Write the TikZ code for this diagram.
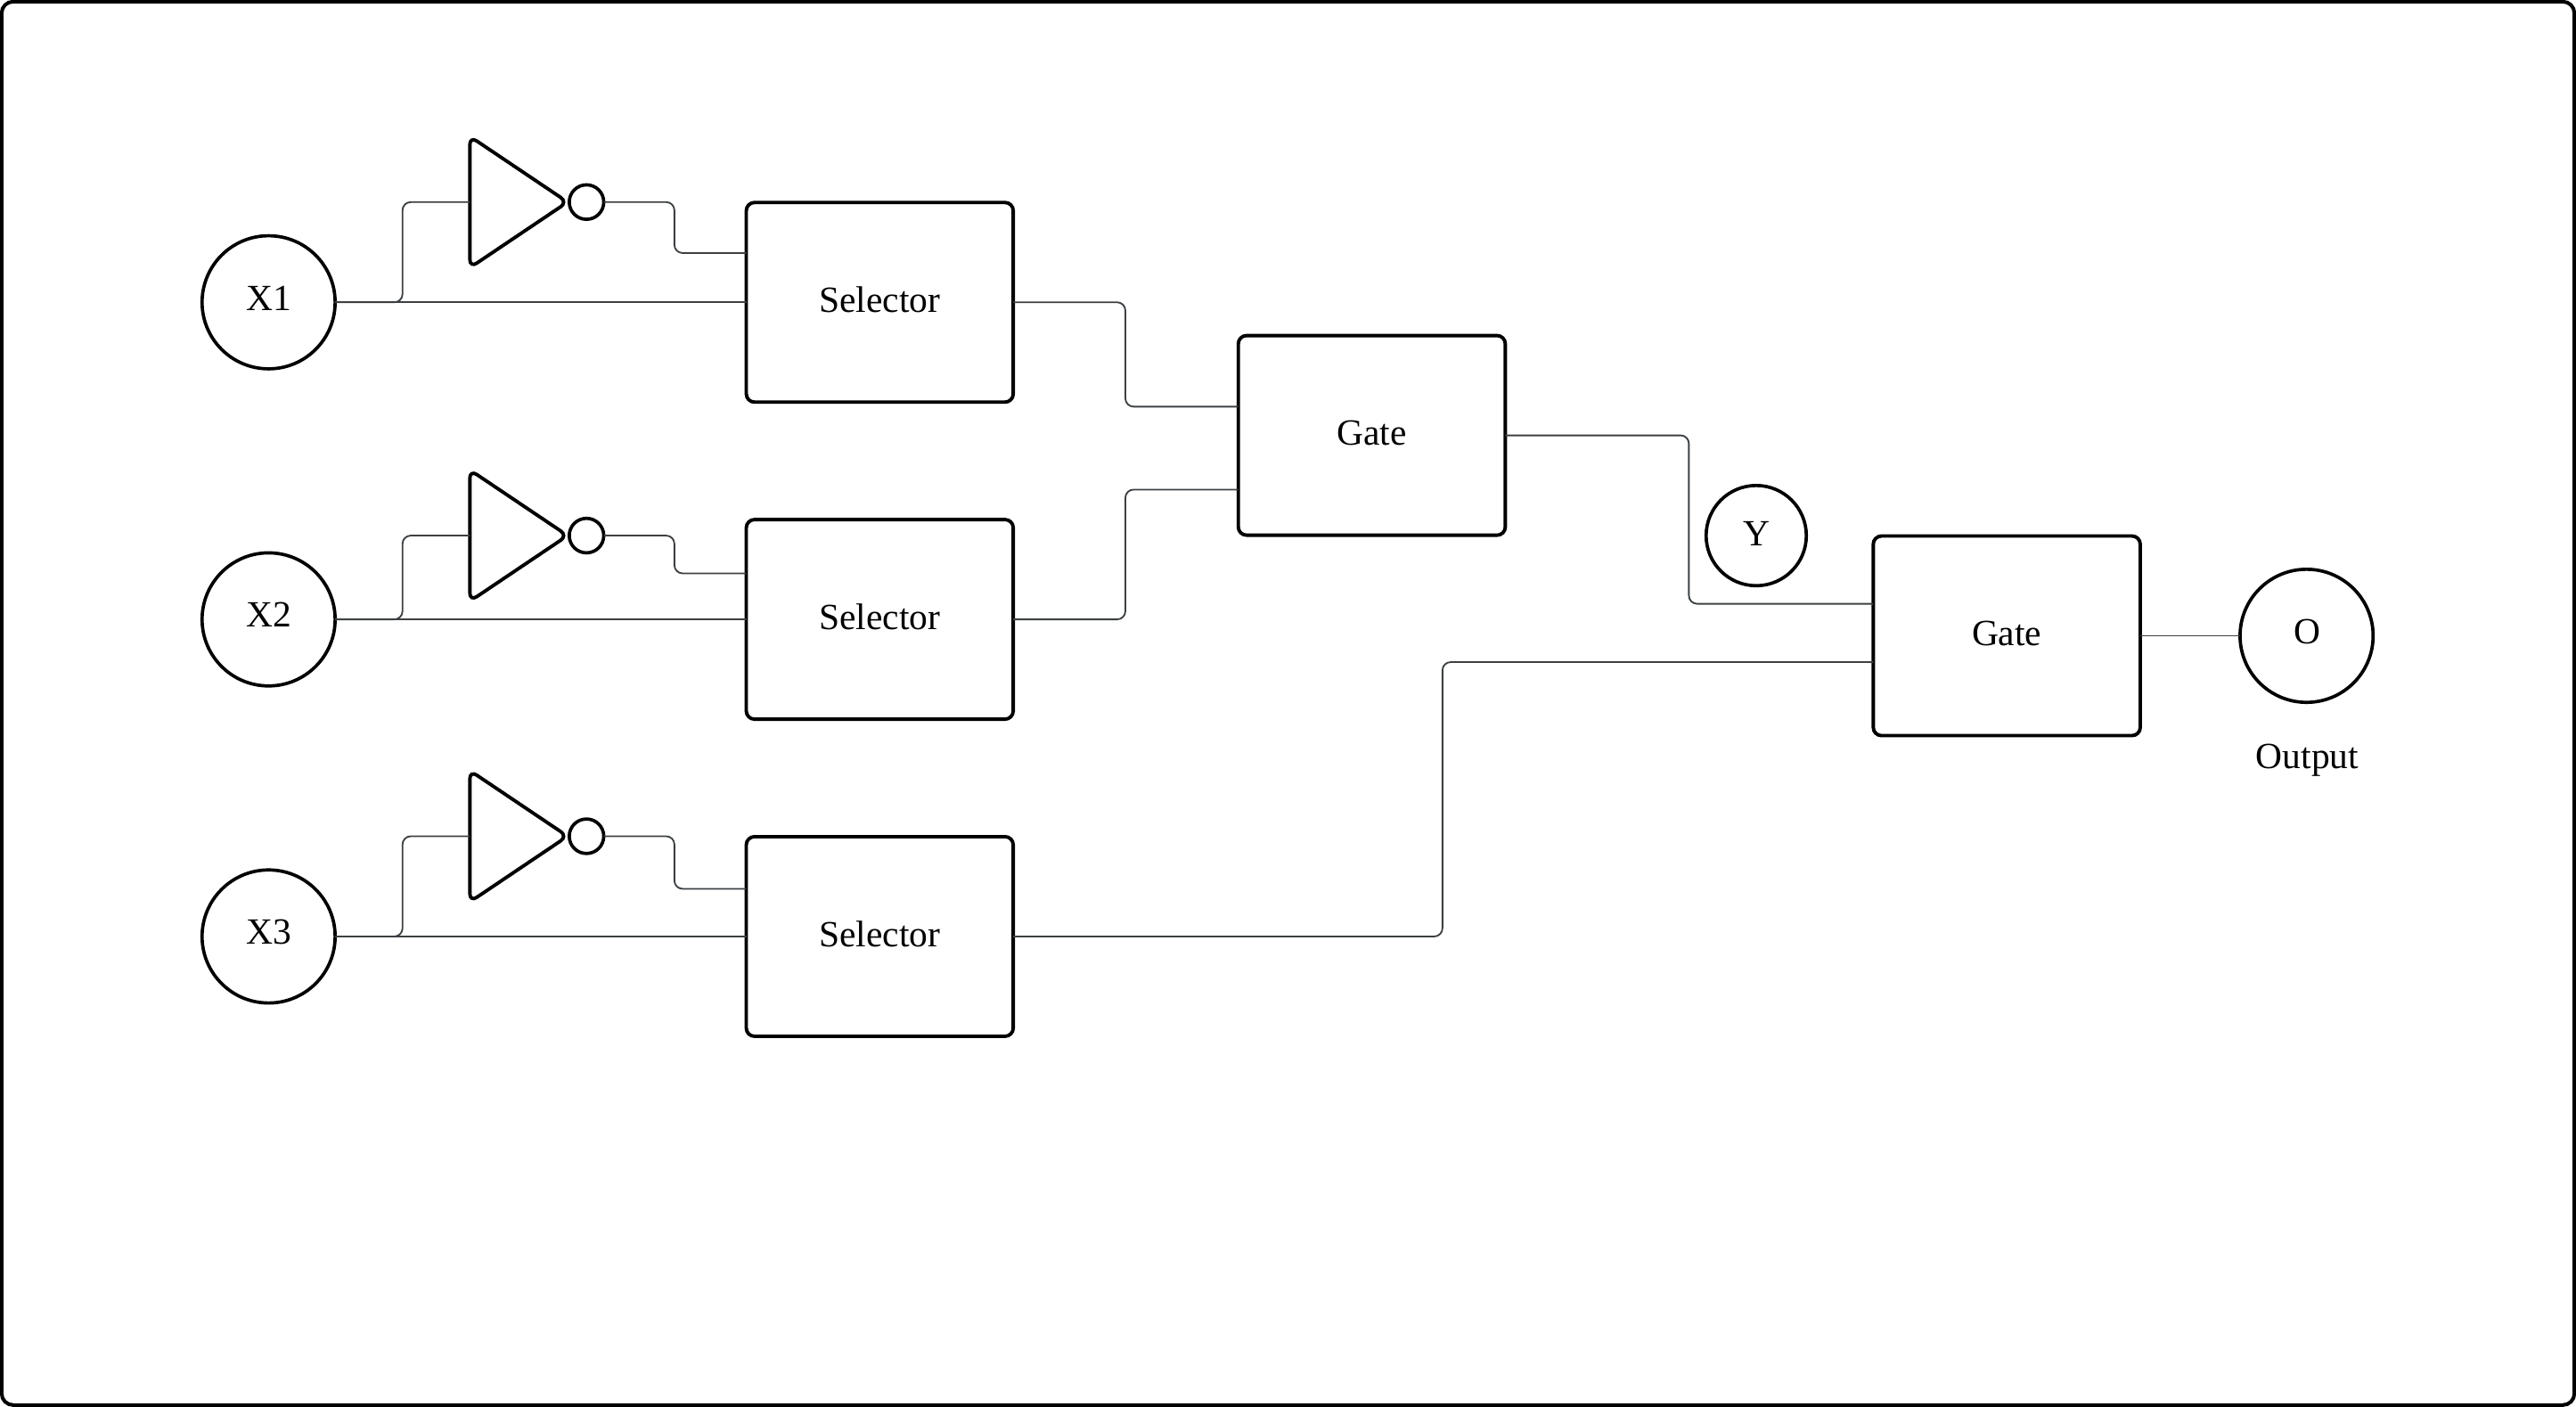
\documentclass[tikz,border=0pt]{standalone}
\usepackage{fontspec}
\setmainfont{Liberation Serif}
\usetikzlibrary{shapes.geometric}
\definecolor{wirecol}{HTML}{3C4043}
\tikzset{
  x=1pt,y=-1pt,
  every node/.style={font=\fontsize{22.5}{26}\selectfont,inner sep=0pt,outer sep=0pt},
  frame/.style={draw=black,line width=2.2pt,rounded corners=7pt},
  blockbox/.style={draw=black,line width=2.1pt,rounded corners=5pt,minimum width=162.5pt,minimum height=121.5pt,text height=18pt,text depth=6pt},
  bigcirc/.style={draw=black,line width=2pt,circle,minimum size=81pt,text height=16pt,text depth=6.4pt},
  ycirc/.style={draw=black,line width=2pt,circle,minimum size=61pt,text height=18pt,text depth=6pt},
  bubble/.style={draw=black,line width=2pt,circle,minimum size=21pt},
  invtri/.style={isosceles triangle,isosceles triangle stretches,shape border rotate=0,minimum width=80pt,minimum height=59.5pt,anchor=lower side},
  tripath/.style={draw=black,line width=2.1pt,rounded corners=5pt},
  wire/.style={draw=wirecol,line width=1pt,rounded corners=5pt}
}
\begin{document}
\begin{tikzpicture}
\useasboundingbox (0,0) rectangle (1568,856.4);
\draw[frame] (1,1) rectangle (1567,855.2);
\node[bigcirc] (x1) at (163.5,184) {X1};
\node[bigcirc] (x2) at (163.5,377) {X2};
\node[bigcirc] (x3) at (163.5,570) {X3};
\node[invtri] (t1) at (286,123) {};
\node[invtri] (t2) at (286,326) {};
\node[invtri] (t3) at (286,509) {};
\draw[tripath] (t1.lower side) -- (t1.left corner) -- (t1.apex) -- (t1.right corner) -- cycle;
\draw[tripath] (t2.lower side) -- (t2.left corner) -- (t2.apex) -- (t2.right corner) -- cycle;
\draw[tripath] (t3.lower side) -- (t3.left corner) -- (t3.apex) -- (t3.right corner) -- cycle;
\node[bubble] (b1) at (357,123) {};
\node[bubble] (b2) at (357,326) {};
\node[bubble] (b3) at (357,509) {};
\node[blockbox] (s1) at (535.5,184) {Selector};
\node[blockbox] (s2) at (535.5,377) {Selector};
\node[blockbox] (s3) at (535.5,570) {Selector};
\node[blockbox] (g1) at (835,265) {Gate};
\node[blockbox] (g2) at (1221.5,387) {Gate};
\node[ycirc] (y) at (1069,326) {Y};
\node[bigcirc] (o) at (1404,387) {\hspace{1pt}O};
\node[anchor=base] (out) at (1404.5,467.8) {Output};
\draw[wire] (x1.east) -- (245,184) |- (t1.lower side);
\draw[wire] (x2.east) -- (245,377) |- (t2.lower side);
\draw[wire] (x3.east) -- (245,570) |- (t3.lower side);
\draw[wire] (x1.east) -- (s1.west);
\draw[wire] (x2.east) -- (s2.west);
\draw[wire] (x3.east) -- (s3.west);
\draw[wire] (b1.east) -- (410.5,123) |- (s1.west |- 0,154);
\draw[wire] (b2.east) -- (410.5,326) |- (s2.west |- 0,349);
\draw[wire] (b3.east) -- (410.5,509) |- (s3.west |- 0,541);
\draw[wire] (s1.east) -- (685,184) |- (g1.west |- 0,247.5);
\draw[wire] (s2.east) -- (685,377) |- (g1.west |- 0,298);
\draw[wire] (s3.east) -- (878,570) |- (g2.west |- 0,403);
\draw[wire] (g1.east) -- (1028,265) |- (g2.west |- 0,367.5);
\draw[wire] (g2.east) -- (o.west);
\end{tikzpicture}
\end{document}
